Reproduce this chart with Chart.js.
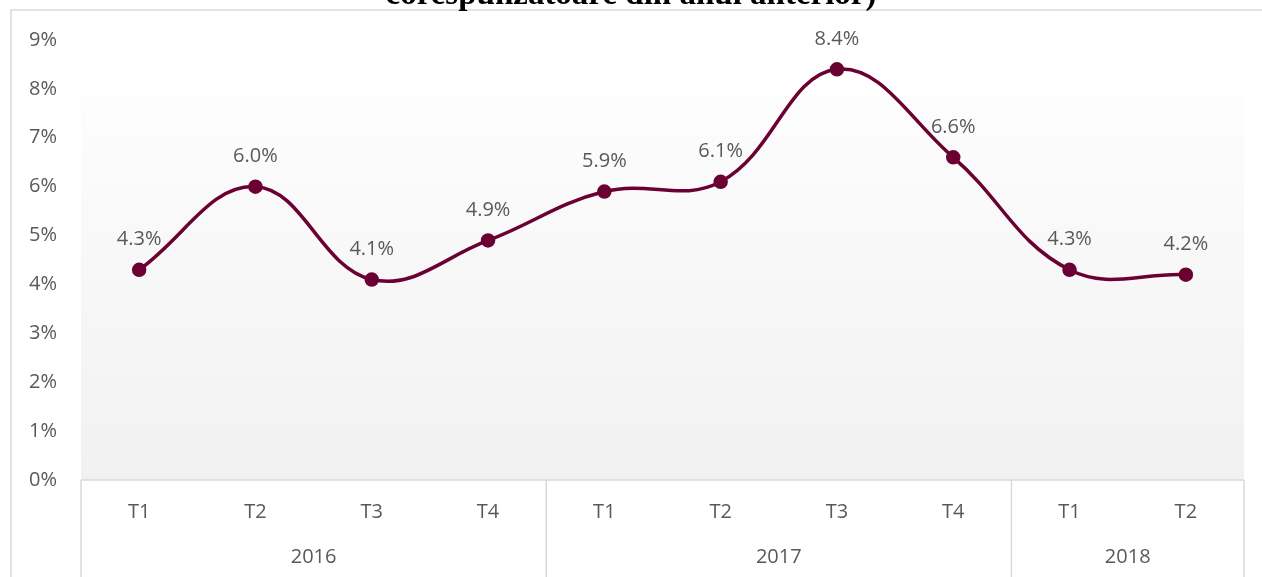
<!DOCTYPE html>
<html>
<head>
<meta charset="utf-8">
<script src="https://cdn.jsdelivr.net/npm/chart.js@4/dist/chart.umd.min.js"></script>
<style>
  html, body { margin: 0; padding: 0; background: #fff; }
  #wrap { position: relative; width: 1262px; height: 577px; }
</style>
</head>
<body>
<div id="wrap"><canvas id="chart" width="1262" height="577"></canvas></div>
<script>
const quarters = ['T1', 'T2', 'T3', 'T4', 'T1', 'T2', 'T3', 'T4', 'T1', 'T2'];
const years = ['2016', '2017', '2018'];
const yearSizes = [4, 4, 2];
const growth = [4.3, 6.0, 4.1, 4.9, 5.9, 6.1, 8.4, 6.6, 4.3, 4.2];
const titleText = 'corespunzatoare din anul anterior)';

const lineColor = '#6b0032';
const textColor = '#595959';
const rule = '#d9d9d9';
const font = "'Open Sans', 'Noto Sans', sans-serif";

// background, frame and cut-off title
const backdrop = {
  id: 'backdrop',
  beforeDraw(chart) {
    const ctx = chart.ctx;
    const a = chart.chartArea;
    ctx.save();
    ctx.fillStyle = '#fff';
    ctx.fillRect(0, 0, chart.width, chart.height);

    const top = chart.scales.y.getPixelForValue(7.85);
    const grad = ctx.createLinearGradient(0, top, 0, a.bottom);
    grad.addColorStop(0, '#fdfdfd');
    grad.addColorStop(1, '#f1f1f1');
    ctx.fillStyle = grad;
    ctx.fillRect(a.left, top, a.right - a.left, a.bottom - top);

    ctx.strokeStyle = rule;
    ctx.lineWidth = 1.5;
    ctx.beginPath();
    ctx.moveTo(11, chart.height);
    ctx.lineTo(11, 10);
    ctx.lineTo(chart.width, 10);
    ctx.stroke();

    ctx.fillStyle = '#000';
    ctx.font = "bold 33px 'Liberation Serif', 'DejaVu Serif', serif";
    ctx.textAlign = 'center';
    ctx.textBaseline = 'alphabetic';
    ctx.fillText(titleText, 631, 4);
    ctx.restore();
  }
};

// year row, separators and value labels
const extras = {
  id: 'extras',
  afterDraw(chart) {
    const ctx = chart.ctx;
    const a = chart.chartArea;
    const x = chart.scales.x;
    const step = x.getPixelForValue(1) - x.getPixelForValue(0);
    ctx.save();

    ctx.strokeStyle = rule;
    ctx.lineWidth = 1.5;
    ctx.beginPath();
    ctx.moveTo(a.left, a.bottom);
    ctx.lineTo(a.right, a.bottom);
    let idx = 0;
    const edges = [a.left];
    yearSizes.forEach(n => {
      idx += n;
      edges.push(x.getPixelForValue(idx - 1) + step / 2);
    });
    edges.forEach(px => {
      ctx.moveTo(px, a.bottom);
      ctx.lineTo(px, chart.height);
    });
    ctx.stroke();

    ctx.fillStyle = textColor;
    ctx.font = '20px ' + font;
    ctx.textAlign = 'center';
    ctx.textBaseline = 'middle';
    years.forEach((yr, i) => {
      ctx.fillText(yr, (edges[i] + edges[i + 1]) / 2, 557);
    });

    const meta = chart.getDatasetMeta(0);
    meta.data.forEach((pt, i) => {
      ctx.fillText(growth[i].toFixed(1) + '%', pt.x, pt.y - 30);
    });
    ctx.restore();
  }
};

new Chart(document.getElementById('chart'), {
  type: 'line',
  data: {
    labels: quarters,
    datasets: [{
      data: growth,
      borderColor: lineColor,
      backgroundColor: lineColor,
      borderWidth: 3.5,
      pointRadius: 5.5,
      pointBackgroundColor: lineColor,
      pointBorderColor: lineColor,
      tension: 0.4,
      fill: false
    }]
  },
  options: {
    responsive: false,
    animation: false,
    devicePixelRatio: 1,
    layout: { padding: { top: 40, right: 18, bottom: 0, left: 0 } },
    plugins: {
      legend: { display: false },
      tooltip: { enabled: false },
      title: { display: false }
    },
    scales: {
      x: {
        offset: true,
        grid: { display: false, drawTicks: false },
        border: { display: false },
        ticks: {
          color: textColor,
          font: { size: 20, family: font },
          padding: 20,
          maxRotation: 0
        },
        afterFit(scale) { scale.height = 97; }
      },
      y: {
        min: 0,
        max: 9,
        grid: { display: false, drawTicks: false },
        border: { display: false },
        ticks: {
          stepSize: 1,
          color: textColor,
          font: { size: 20, family: font },
          padding: 24,
          callback: v => v + '%'
        },
        afterFit(scale) { scale.width = 81; }
      }
    }
  },
  plugins: [backdrop, extras]
});
</script>
</body>
</html>
